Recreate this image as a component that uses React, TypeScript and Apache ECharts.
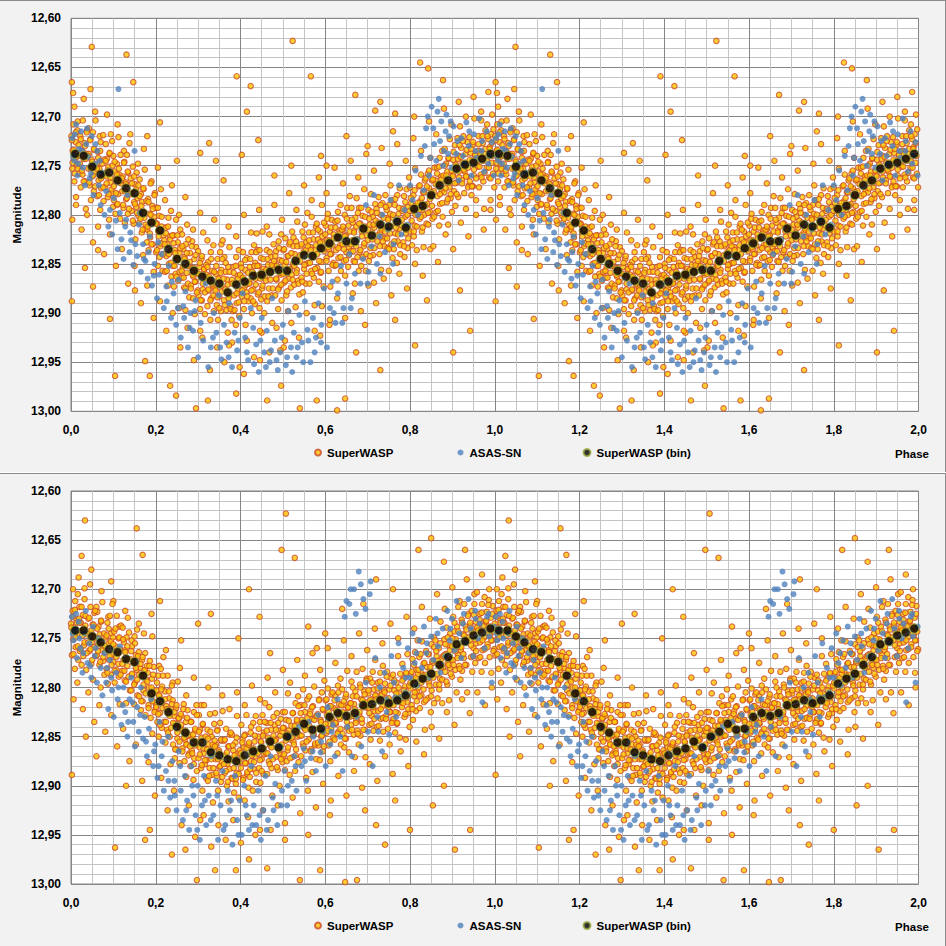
import React, { useEffect, useRef } from "react";
import * as echarts from "echarts";

// phases in thousandths of a cycle, magnitudes as thousandths above 12
const BIN_PHASE = [10,30,50,70,90,110,130,150,170,190,210,230,250,270,290,310,330,350,370,390,410,430,450,470,490,510,530,550,570,590,610,630,650,670,690,710,730,750,770,790,810,830,850,870,890,910,930,950,970,990];
const TOP_BIN = [738,740,751,759,757,765,773,778,798,808,816,835,845,850,857,863,867,870,879,871,868,862,861,858,856,857,847,841,842,834,829,823,827,827,814,821,810,812,807,813,794,791,780,770,765,753,749,747,743,738];
const BOT_BIN = [742,742,748,754,761,764,771,774,788,806,814,825,840,846,856,856,866,869,873,875,869,865,862,855,861,850,845,837,843,842,830,826,829,826,818,817,813,816,813,808,796,791,786,777,769,756,753,747,744,740];

const TOP_SW_CORE = [
[1,720],[3,753],[4,735],[6,708],[8,766],[9,744],[11,726],[12,782],[14,749],[15,714],[17,740],[19,758],
[20,751],[22,720],[23,772],[25,735],[27,759],[28,704],[30,743],[32,727],[33,766],[35,794],[36,738],[38,714],
[41,753],[42,738],[44,770],[46,723],[47,785],[49,744],[50,761],[52,716],[54,776],[55,734],[56,756],[58,704],
[60,749],[62,781],[64,736],[65,765],[67,753],[69,795],[70,726],[71,773],[73,745],[75,760],[76,719],[77,786],
[81,772],[82,728],[84,761],[85,743],[87,782],[88,751],[90,805],[91,738],[93,767],[94,718],[96,778],[99,792],
[100,740],[101,785],[103,756],[105,799],[106,764],[108,748],[109,790],[111,779],[112,721],[114,759],[116,804],[118,768],
[121,776],[122,761],[124,793],[126,746],[127,808],[129,767],[130,784],[132,739],[134,799],[135,757],[136,779],[138,727],
[141,763],[143,796],[144,778],[146,751],[148,809],[149,787],[151,769],[152,825],[154,792],[155,757],[157,783],[159,801],
[161,808],[162,764],[164,797],[165,779],[167,818],[168,787],[170,841],[171,774],[173,803],[174,754],[176,814],[179,828],
[180,815],[182,784],[183,836],[185,799],[187,823],[188,768],[190,807],[192,791],[193,830],[195,858],[196,802],[198,778],
[200,793],[201,838],[203,809],[205,852],[206,817],[208,801],[209,843],[211,832],[212,774],[214,812],[216,857],[218,821],
[220,826],[222,858],[224,813],[225,842],[227,830],[229,872],[230,803],[231,850],[233,822],[235,837],[236,796],[237,863],
[240,852],[242,821],[243,873],[245,836],[247,860],[248,805],[250,844],[252,828],[253,867],[255,895],[256,839],[258,815],
[261,864],[262,820],[264,853],[265,835],[267,874],[268,843],[270,897],[271,830],[273,859],[274,810],[276,870],[279,884],
[281,839],[283,872],[284,854],[286,827],[288,885],[289,863],[291,845],[292,901],[294,868],[295,833],[297,859],[299,877],
[300,837],[301,882],[303,853],[305,896],[306,861],[308,845],[309,887],[311,876],[312,818],[314,856],[316,901],[318,865],
[320,861],[322,893],[324,848],[325,877],[327,865],[329,907],[330,838],[331,885],[333,857],[335,872],[336,831],[337,898],
[341,875],[342,860],[344,892],[346,845],[347,907],[349,866],[350,883],[352,838],[354,898],[355,856],[356,878],[358,826],
[361,887],[362,843],[364,876],[365,858],[367,897],[368,866],[370,920],[371,853],[373,882],[374,833],[376,893],[379,907],
[380,866],[382,898],[384,853],[385,882],[387,870],[389,912],[390,843],[391,890],[393,862],[395,877],[396,836],[397,903],
[401,850],[403,883],[404,865],[406,838],[408,896],[409,874],[411,856],[412,912],[414,879],[415,844],[417,870],[419,888],
[421,868],[422,853],[424,885],[426,838],[427,900],[429,859],[430,876],[432,831],[434,891],[435,849],[436,871],[438,819],
[440,836],[441,881],[443,852],[445,895],[446,860],[448,844],[449,886],[451,875],[452,817],[454,855],[456,900],[458,864],
[460,867],[462,836],[463,888],[465,851],[467,875],[468,820],[470,859],[472,843],[473,882],[475,910],[476,854],[478,830],
[480,850],[482,882],[484,837],[485,866],[487,854],[489,896],[490,827],[491,874],[493,846],[495,861],[496,820],[497,887],
[501,836],[503,869],[504,851],[506,824],[508,882],[509,860],[511,842],[512,898],[514,865],[515,830],[517,856],[519,874],
[521,861],[522,817],[524,850],[525,832],[527,871],[528,840],[530,894],[531,827],[533,856],[534,807],[536,867],[539,881],
[541,847],[542,832],[544,864],[546,817],[547,879],[549,838],[550,855],[552,810],[554,870],[555,828],[556,850],[558,798],
[560,849],[562,818],[563,870],[565,833],[567,857],[568,802],[570,841],[572,825],[573,864],[575,892],[576,836],[578,812],
[580,809],[581,854],[583,825],[585,868],[586,833],[588,817],[589,859],[591,848],[592,790],[594,828],[596,873],[598,837],
[601,811],[603,844],[604,826],[606,799],[608,857],[609,835],[611,817],[612,873],[614,840],[615,805],[617,831],[619,849],
[620,820],[622,852],[624,807],[625,836],[627,824],[629,866],[630,797],[631,844],[633,816],[635,831],[636,790],[637,857],
[641,830],[642,815],[644,847],[646,800],[647,862],[649,821],[650,838],[652,793],[654,853],[655,811],[656,833],[658,781],
[661,837],[662,793],[664,826],[665,808],[667,847],[668,816],[670,870],[671,803],[673,832],[674,783],[676,843],[679,857],
[680,793],[681,838],[683,809],[685,852],[686,817],[688,801],[689,843],[691,832],[692,774],[694,812],[696,857],[698,821],
[700,826],[702,795],[703,847],[705,810],[707,834],[708,779],[710,818],[712,802],[713,841],[715,869],[716,813],[718,789],
[721,794],[723,827],[724,809],[726,782],[728,840],[729,818],[731,800],[732,856],[734,823],[735,788],[737,814],[739,832],
[741,824],[742,780],[744,813],[745,795],[747,834],[748,803],[750,857],[751,790],[753,819],[754,770],[756,830],[759,844],
[760,803],[762,835],[764,790],[765,819],[767,807],[769,849],[770,780],[771,827],[773,799],[775,814],[776,773],[777,840],
[781,811],[782,796],[784,828],[786,781],[787,843],[789,802],[790,819],[792,774],[794,834],[795,792],[796,814],[798,762],
[800,772],[801,817],[803,788],[805,831],[806,796],[808,780],[809,822],[811,811],[812,753],[814,791],[816,836],[818,800],
[821,771],[823,804],[824,786],[826,759],[828,817],[829,795],[831,777],[832,833],[834,800],[835,765],[837,791],[839,809],
[840,789],[842,758],[843,810],[845,773],[847,797],[848,742],[850,781],[852,765],[853,804],[855,832],[856,776],[858,752],
[860,765],[862,797],[864,752],[865,781],[867,769],[869,811],[870,742],[871,789],[873,761],[875,776],[876,735],[877,802],
[881,777],[882,733],[884,766],[885,748],[887,787],[888,756],[890,810],[891,743],[893,772],[894,723],[896,783],[899,797],
[901,759],[902,744],[904,776],[906,729],[907,791],[909,750],[910,767],[912,722],[914,782],[915,740],[916,762],[918,710],
[921,732],[923,765],[924,747],[926,720],[928,778],[929,756],[931,738],[932,794],[934,761],[935,726],[937,752],[939,770],
[940,721],[941,766],[943,737],[945,780],[946,745],[948,729],[949,771],[951,760],[952,702],[954,740],[956,785],[958,749],
[960,751],[962,720],[963,772],[965,735],[967,759],[968,704],[970,743],[972,727],[973,766],[975,794],[976,738],[978,714],
[981,752],[982,708],[984,741],[985,723],[987,762],[988,731],[990,785],[991,718],[993,747],[994,698],[996,758],[999,772]
];

const TOP_SW_TIGHT = [
[2,724],[4,747],[6,734],[9,758],[11,716],[13,741],[16,753],[18,729],
[21,748],[23,723],[26,755],[28,736],[30,766],[33,730],[35,743],[37,716],
[40,740],[43,767],[45,724],[47,753],[50,746],[52,760],[54,733],[57,771],
[61,753],[64,742],[66,780],[69,735],[71,763],[74,748],[76,772],[79,744],
[82,745],[84,768],[86,755],[89,779],[91,737],[93,762],[96,774],[98,750],
[101,771],[103,746],[106,778],[108,759],[110,789],[113,753],[115,766],[117,739],
[120,763],[123,790],[125,747],[127,776],[130,769],[132,783],[134,756],[137,794],
[141,779],[144,768],[146,806],[149,761],[151,789],[154,774],[156,798],[159,770],
[162,781],[164,804],[166,791],[169,815],[171,773],[173,798],[176,810],[178,786],
[181,812],[183,787],[186,819],[188,800],[190,830],[193,794],[195,807],[197,780],
[200,809],[203,836],[205,793],[207,822],[210,815],[212,829],[214,802],[217,840],
[221,830],[224,819],[226,857],[229,812],[231,840],[234,825],[236,849],[239,821],
[242,829],[244,852],[246,839],[249,863],[251,821],[253,846],[256,858],[258,834],
[261,857],[263,832],[266,864],[268,845],[270,875],[273,839],[275,852],[277,825],
[280,848],[283,875],[285,832],[287,861],[290,854],[292,868],[294,841],[297,879],
[301,860],[304,849],[306,887],[309,842],[311,870],[314,855],[316,879],[319,851],
[322,853],[324,876],[326,863],[329,887],[331,845],[333,870],[336,882],[338,858],
[341,877],[343,852],[346,884],[348,865],[350,895],[353,859],[355,872],[357,845],
[360,865],[363,892],[365,849],[367,878],[370,871],[372,885],[374,858],[377,896],
[381,870],[384,859],[386,897],[389,852],[391,880],[394,865],[396,889],[399,861],
[402,854],[404,877],[406,864],[409,888],[411,846],[413,871],[416,883],[418,859],
[421,870],[423,845],[426,877],[428,858],[430,888],[433,852],[435,865],[437,838],
[440,852],[443,879],[445,836],[447,865],[450,858],[452,872],[454,845],[457,883],
[461,856],[464,845],[466,883],[469,838],[471,866],[474,851],[476,875],[479,847],
[482,842],[484,865],[486,852],[489,876],[491,834],[493,859],[496,871],[498,847],
[501,860],[503,835],[506,867],[508,848],[510,878],[513,842],[515,855],[517,828],
[520,839],[523,866],[525,823],[527,852],[530,845],[532,859],[534,832],[537,870],
[541,841],[544,830],[546,868],[549,823],[551,851],[554,836],[556,860],[559,832],
[562,826],[564,849],[566,836],[569,860],[571,818],[573,843],[576,855],[578,831],
[581,840],[583,815],[586,847],[588,828],[590,858],[593,822],[595,835],[597,808],
[600,820],[603,847],[605,804],[607,833],[610,826],[612,840],[614,813],[617,851],
[621,824],[624,813],[626,851],[629,806],[631,834],[634,819],[636,843],[639,815],
[642,812],[644,835],[646,822],[649,846],[651,804],[653,829],[656,841],[658,817],
[661,830],[663,805],[666,837],[668,818],[670,848],[673,812],[675,825],[677,798],
[680,809],[683,836],[685,793],[687,822],[690,815],[692,829],[694,802],[697,840],
[701,815],[704,804],[706,842],[709,797],[711,825],[714,810],[716,834],[719,806],
[722,798],[724,821],[726,808],[729,832],[731,790],[733,815],[736,827],[738,803],
[741,817],[743,792],[746,824],[748,805],[750,835],[753,799],[755,812],[757,785],
[760,800],[763,827],[765,784],[767,813],[770,806],[772,820],[774,793],[777,831],
[781,805],[784,794],[786,832],[789,787],[791,815],[794,800],[796,824],[799,796],
[802,783],[804,806],[806,793],[809,817],[811,775],[813,800],[816,812],[818,788],
[821,795],[823,770],[826,802],[828,783],[830,813],[833,777],[835,790],[837,763],
[840,771],[843,798],[845,755],[847,784],[850,777],[852,791],[854,764],[857,802],
[861,769],[864,758],[866,796],[869,751],[871,779],[874,764],[876,788],[879,760],
[882,750],[884,773],[886,760],[889,784],[891,742],[893,767],[896,779],[898,755],
[901,761],[903,736],[906,768],[908,749],[910,779],[913,743],[915,756],[917,729],
[920,741],[923,768],[925,725],[927,754],[930,747],[932,761],[934,734],[937,772],
[941,744],[944,733],[946,771],[949,726],[951,754],[954,739],[956,763],[959,735],
[962,728],[964,751],[966,738],[969,762],[971,720],[973,745],[976,757],[978,733],
[981,745],[983,720],[986,752],[988,733],[990,763],[993,727],[995,740],[997,713]
];

const TOP_SW_EDGE = [
[8,690],[16,705],[30,682],[42,712],[57,695],[68,720],[85,698],[97,725],[110,708],[125,735],[140,718],[158,748],[172,733],[190,766],[205,752],[222,785],[238,770],[255,800],[270,782],[288,815],[305,798],[322,826],[338,805],[355,830],[372,812],[390,822],[408,800],[425,818],[444,795],[462,812],[480,790],[498,805],[515,778],[532,795],[550,770],[568,785],[585,762],[603,778],[622,752],[642,768],[660,745],[678,762],[697,738],[715,755],[733,732],[752,748],[770,728],[790,745],[808,722],[826,735],[845,705],[862,718],[880,692],[898,708],[915,685],[932,700],[950,680],[968,695],[985,675],
[49,629],[131,637],[147,665],[2,665],[5,676],[46,672],[391,659],[424,669],[415,695],[523,623],[566,659],[210,706],[326,727],[442,724],[403,739],[305,737],[342,745],[671,678],[718,694],[765,697],[824,645],[843,651],[878,663],[730,685],[603,750],[650,720],[700,730],[760,715],[810,700],[590,740],[480,760],[520,750],[360,765],[250,745],[180,720],
[3,805],[12,790],[25,815],[38,800],[52,828],[64,812],[78,840],[92,820],[106,852],[120,835],[135,870],[150,852],[165,890],[180,872],[195,905],[210,888],[225,918],[240,900],[258,935],[275,915],[290,948],[310,925],[328,958],[345,935],[362,950],[380,930],[398,955],[415,928],[432,945],[450,920],[468,940],[485,915],[502,935],[520,910],[538,925],[556,900],[575,918],[592,893],[610,912],[628,885],[647,905],[665,880],[684,898],[702,872],[720,890],[738,865],[756,882],[775,860],[793,875],[812,850],[830,862],[848,835],[866,848],[884,820],[902,835],[920,808],[938,822],[956,800],[974,815],[990,795],
[2,888],[52,873],[92,906],[104,964],[175,949],[186,964],[234,974],[248,984],[295,997],[323,989],[390,982],[408,962],[463,989],[496,974],[540,997],[580,989],[628,999],[647,987],[673,940],[730,958],[812,933],[902,940],[942,918],[840,887],[918,877],[305,918],[373,933],[446,918],[505,928],[588,923],[611,907],[694,912],[765,907],[64,836],[33,854],[151,877],[446,948],[494,938]
];

const TOP_ASAS = [
[3,722],[8,745],[12,708],[15,760],[19,733],[24,715],[28,752],[33,770],[36,728],[40,741],[44,763],[49,720],[53,780],[57,748],[62,735],[66,770],[70,790],[74,757],
[79,800],[83,776],[88,812],[92,795],[97,820],[101,783],[106,806],[110,835],[112,672],[115,798],[119,825],[124,845],[128,812],[133,780],[138,838],[142,826],[147,851],[150,735],[156,842],[160,810],
[165,858],[170,830],[176,847],[181,865],[186,822],[191,872],[197,850],[203,885],[208,861],[214,840],[219,895],[225,873],[231,852],[236,905],[242,880],[248,912],[254,866],[259,925],[265,893],[270,878],[276,935],[282,900],[288,918],[294,887],[300,945],[306,910],[312,928],[318,870],
[324,955],[330,935],[337,900],[343,920],[349,882],[355,947],[361,912],[367,930],[373,890],[380,955],[386,920],[392,938],[398,905],[405,880],[411,925],[418,948],[424,895],[430,915],[437,932],[443,960],[450,905],[456,940],[462,918],[469,950],[475,885],[481,928],[488,958],[494,940],[500,912],[507,953],[513,898],[519,935],[526,920],[532,945],[539,902],[545,930],[552,888],[558,917],[565,950],[571,905],[578,925],[584,890],[591,912],[597,875],[604,935],
[611,895],[617,868],[624,910],[630,880],[637,852],[643,895],[650,870],[657,840],[663,885],[670,860],[676,825],[683,870],[689,845],[696,790],[702,858],[709,832],[715,780],[722,850],[728,822],[735,800],[741,838],[748,815],[754,785],[761,830],[767,805],[774,770],[780,820],
[787,795],[793,810],[800,770],[806,785],[813,755],[819,800],[826,740],[832,775],[838,712],[845,760],[851,690],[857,728],[862,745],[868,682],[874,705],[880,735],[886,698],[892,720],[898,752],[903,710],[909,738],[915,765],[921,722],[927,748],[933,706],[939,730],[945,760],[951,718],[957,742],[963,702],[969,735],[975,756],[981,715],[987,740],[993,726],[998,760]
];

const TOP_ASAS_EXTRA = [
[5,740],[9,718],[17,748],[26,735],[38,712],[47,758],[58,728],[68,745],[130,805],[140,818],[152,830],[162,798],[172,845],[183,838],[195,862],[206,828],[226,888],[238,868],[252,895],[267,905],[280,915],[292,898],[335,925],[352,935],[372,945],[395,928],[415,940],[432,952],[447,928],[460,955],[472,938],[485,948],[497,925],[510,945],[522,960],[535,935],[548,950],[560,928],[575,940],[590,930],[620,900],[640,910],[660,895],[700,870],[730,860],[760,850],[835,730],[842,700],[848,742],[855,712],[865,695],[871,725],[878,750],[884,715],[890,738],[896,705],[912,725],[925,740],[940,715],[955,735],[970,725],[985,748]
];

const BOT_SW_CORE = [
[0,735],[2,767],[4,722],[5,751],[7,739],[9,781],[10,712],[11,759],[13,731],[15,746],[16,705],[17,772],
[20,718],[21,763],[23,734],[25,777],[26,742],[28,726],[29,768],[31,757],[32,699],[34,737],[36,782],[38,746],
[41,730],[43,763],[44,745],[46,718],[48,776],[49,754],[51,736],[52,792],[54,759],[55,724],[57,750],[59,768],
[61,767],[62,723],[64,756],[65,738],[67,777],[68,746],[70,800],[71,733],[73,762],[74,713],[76,773],[79,787],
[81,764],[82,749],[84,781],[86,734],[87,796],[89,755],[90,772],[92,727],[94,787],[95,745],[96,767],[98,715],
[100,774],[102,743],[103,795],[105,758],[107,782],[108,727],[110,766],[112,750],[113,789],[115,817],[116,761],[118,737],
[121,783],[122,739],[124,772],[125,754],[127,793],[128,762],[130,816],[131,749],[133,778],[134,729],[136,789],[139,803],
[140,771],[142,803],[144,758],[145,787],[147,775],[149,817],[150,748],[151,795],[153,767],[155,782],[156,741],[157,808],
[160,764],[161,809],[163,780],[165,823],[166,788],[168,772],[169,814],[171,803],[172,745],[174,783],[176,828],[178,792],
[181,785],[183,818],[184,800],[186,773],[188,831],[189,809],[191,791],[192,847],[194,814],[195,779],[197,805],[199,823],
[201,818],[202,803],[204,835],[206,788],[207,850],[209,809],[210,826],[212,781],[214,841],[215,799],[216,821],[218,769],
[220,835],[222,804],[223,856],[225,819],[227,843],[228,788],[230,827],[232,811],[233,850],[235,878],[236,822],[238,798],
[240,813],[241,858],[243,829],[245,872],[246,837],[248,821],[249,863],[251,852],[252,794],[254,832],[256,877],[258,841],
[261,829],[263,862],[264,844],[266,817],[268,875],[269,853],[271,835],[272,891],[274,858],[275,823],[277,849],[279,867],
[280,848],[282,880],[284,835],[285,864],[287,852],[289,894],[290,825],[291,872],[293,844],[295,859],[296,818],[297,885],
[301,872],[302,828],[304,861],[305,843],[307,882],[308,851],[310,905],[311,838],[313,867],[314,818],[316,878],[319,892],
[320,874],[322,843],[323,895],[325,858],[327,882],[328,827],[330,866],[332,850],[333,889],[335,917],[336,861],[338,837],
[341,873],[342,858],[344,890],[346,843],[347,905],[349,864],[350,881],[352,836],[354,896],[355,854],[356,876],[358,824],
[361,854],[363,887],[364,869],[366,842],[368,900],[369,878],[371,860],[372,916],[374,883],[375,848],[377,874],[379,892],
[380,848],[381,893],[383,864],[385,907],[386,872],[388,856],[389,898],[391,887],[392,829],[394,867],[396,912],[398,876],
[401,882],[402,838],[404,871],[405,853],[407,892],[408,861],[410,915],[411,848],[413,877],[414,828],[416,888],[419,902],
[420,859],[422,891],[424,846],[425,875],[427,863],[429,905],[430,836],[431,883],[433,855],[435,870],[436,829],[437,896],
[441,865],[442,850],[444,882],[446,835],[447,897],[449,856],[450,873],[452,828],[454,888],[455,846],[456,868],[458,816],
[460,867],[462,836],[463,888],[465,851],[467,875],[468,820],[470,859],[472,843],[473,882],[475,910],[476,854],[478,830],
[481,838],[483,871],[484,853],[486,826],[488,884],[489,862],[491,844],[492,900],[494,867],[495,832],[497,858],[499,876],
[500,825],[501,870],[503,841],[505,884],[506,849],[508,833],[509,875],[511,864],[512,806],[514,844],[516,889],[518,853],
[520,839],[522,871],[524,826],[525,855],[527,843],[529,885],[530,816],[531,863],[533,835],[535,850],[536,809],[537,876],
[540,849],[542,818],[543,870],[545,833],[547,857],[548,802],[550,841],[552,825],[553,864],[555,892],[556,836],[558,812],
[561,853],[562,809],[564,842],[565,824],[567,863],[568,832],[570,886],[571,819],[573,848],[574,799],[576,859],[579,873],
[581,842],[582,827],[584,859],[586,812],[587,874],[589,833],[590,850],[592,805],[594,865],[595,823],[596,845],[598,793],
[601,813],[603,846],[604,828],[606,801],[608,859],[609,837],[611,819],[612,875],[614,842],[615,807],[617,833],[619,851],
[620,821],[622,853],[624,808],[625,837],[627,825],[629,867],[630,798],[631,845],[633,817],[635,832],[636,791],[637,858],
[640,802],[641,847],[643,818],[645,861],[646,826],[648,810],[649,852],[651,841],[652,783],[654,821],[656,866],[658,830],
[661,838],[662,794],[664,827],[665,809],[667,848],[668,817],[670,871],[671,804],[673,833],[674,784],[676,844],[679,858],
[680,828],[682,797],[683,849],[685,812],[687,836],[688,781],[690,820],[692,804],[693,843],[695,871],[696,815],[698,791],
[701,821],[702,806],[704,838],[706,791],[707,853],[709,812],[710,829],[712,784],[714,844],[715,802],[716,824],[718,772],
[720,808],[722,840],[724,795],[725,824],[727,812],[729,854],[730,785],[731,832],[733,804],[735,819],[736,778],[737,845],
[741,796],[743,829],[744,811],[746,784],[748,842],[749,820],[751,802],[752,858],[754,825],[755,790],[757,816],[759,834],
[760,787],[761,832],[763,803],[765,846],[766,811],[768,795],[769,837],[771,826],[772,768],[774,806],[776,851],[778,815],
[781,820],[782,776],[784,809],[785,791],[787,830],[788,799],[790,853],[791,786],[793,815],[794,766],[796,826],[799,840],
[801,801],[802,786],[804,818],[806,771],[807,833],[809,792],[810,809],[812,764],[814,824],[815,782],[816,804],[818,752],
[820,800],[822,769],[823,821],[825,784],[827,808],[828,753],[830,792],[832,776],[833,815],[835,843],[836,787],[838,763],
[840,779],[842,811],[844,766],[845,795],[847,783],[849,825],[850,756],[851,803],[853,775],[855,790],[856,749],[857,816],
[860,752],[861,797],[863,768],[865,811],[866,776],[868,760],[869,802],[871,791],[872,733],[874,771],[876,816],[878,780],
[881,751],[883,784],[884,766],[886,739],[888,797],[889,775],[891,757],[892,813],[894,780],[895,745],[897,771],[899,789],
[901,772],[902,728],[904,761],[905,743],[907,782],[908,751],[910,805],[911,738],[913,767],[914,718],[916,778],[919,792],
[920,762],[922,731],[923,783],[925,746],[927,770],[928,715],[930,754],[932,738],[933,777],[935,805],[936,749],[938,725],
[941,752],[942,737],[944,769],[946,722],[947,784],[949,743],[950,760],[952,715],[954,775],[955,733],[956,755],[958,703],
[960,738],[962,770],[964,725],[965,754],[967,742],[969,784],[970,715],[971,762],[973,734],[975,749],[976,708],[977,775],
[981,723],[983,756],[984,738],[986,711],[988,769],[989,747],[991,729],[992,785],[994,752],[995,717],[997,743],[999,761]
];

const BOT_SW_TIGHT = [
[1,739],[4,728],[6,766],[9,721],[11,749],[14,734],[16,758],[19,730],
[20,734],[23,761],[25,718],[27,747],[30,740],[32,754],[34,727],[37,765],
[41,754],[43,729],[46,761],[48,742],[50,772],[53,736],[55,749],[57,722],
[62,740],[64,763],[66,750],[69,774],[71,732],[73,757],[76,769],[78,745],
[81,758],[84,747],[86,785],[89,740],[91,768],[94,753],[96,777],[99,749],
[100,756],[103,783],[105,740],[107,769],[110,762],[112,776],[114,749],[117,787],
[121,776],[123,751],[126,783],[128,764],[130,794],[133,758],[135,771],[137,744],
[142,763],[144,786],[146,773],[149,797],[151,755],[153,780],[156,792],[158,768],
[161,787],[164,776],[166,814],[169,769],[171,797],[174,782],[176,806],[179,778],
[180,794],[183,821],[185,778],[187,807],[190,800],[192,814],[194,787],[197,825],
[201,820],[203,795],[206,827],[208,808],[210,838],[213,802],[215,815],[217,788],
[222,812],[224,835],[226,822],[229,846],[231,804],[233,829],[236,841],[238,817],
[241,836],[244,825],[246,863],[249,818],[251,846],[254,831],[256,855],[259,827],
[260,838],[263,865],[265,822],[267,851],[270,844],[272,858],[274,831],[277,869],
[281,860],[283,835],[286,867],[288,848],[290,878],[293,842],[295,855],[297,828],
[302,845],[304,868],[306,855],[309,879],[311,837],[313,862],[316,874],[318,850],
[321,863],[324,852],[326,890],[329,845],[331,873],[334,858],[336,882],[339,854],
[340,860],[343,887],[345,844],[347,873],[350,866],[352,880],[354,853],[357,891],
[361,878],[363,853],[366,885],[368,866],[370,896],[373,860],[375,873],[377,846],
[382,859],[384,882],[386,869],[389,893],[391,851],[393,876],[396,888],[398,864],
[401,867],[404,856],[406,894],[409,849],[411,877],[414,862],[416,886],[419,858],
[420,856],[423,883],[425,840],[427,869],[430,862],[432,876],[434,849],[437,887],
[441,867],[443,842],[446,874],[448,855],[450,885],[453,849],[455,862],[457,835],
[462,844],[464,867],[466,854],[469,878],[471,836],[473,861],[476,873],[478,849],
[481,854],[484,843],[486,881],[489,836],[491,864],[494,849],[496,873],[499,845],
[500,841],[503,868],[505,825],[507,854],[510,847],[512,861],[514,834],[517,872],
[521,851],[523,826],[526,858],[528,839],[530,869],[533,833],[535,846],[537,819],
[542,826],[544,849],[546,836],[549,860],[551,818],[553,843],[556,855],[558,831],
[561,838],[564,827],[566,865],[569,820],[571,848],[574,833],[576,857],[579,829],
[580,829],[583,856],[585,813],[587,842],[590,835],[592,849],[594,822],[597,860],
[601,837],[603,812],[606,844],[608,825],[610,855],[613,819],[615,832],[617,805],
[622,813],[624,836],[626,823],[629,847],[631,805],[633,830],[636,842],[638,818],
[641,825],[644,814],[646,852],[649,807],[651,835],[654,820],[656,844],[659,816],
[660,816],[663,843],[665,800],[667,829],[670,822],[672,836],[674,809],[677,847],
[681,825],[683,800],[686,832],[688,813],[690,843],[693,807],[695,820],[697,793],
[702,803],[704,826],[706,813],[709,837],[711,795],[713,820],[716,832],[718,808],
[721,812],[724,801],[726,839],[729,794],[731,822],[734,807],[736,831],[739,803],
[740,805],[743,832],[745,789],[747,818],[750,811],[752,825],[754,798],[757,836],
[761,818],[763,793],[766,825],[768,806],[770,836],[773,800],[775,813],[777,786],
[782,793],[784,816],[786,803],[789,827],[791,785],[793,810],[796,822],[798,798],
[801,795],[804,784],[806,822],[809,777],[811,805],[814,790],[816,814],[819,786],
[820,782],[823,809],[825,766],[827,795],[830,788],[832,802],[834,775],[837,813],
[841,791],[843,766],[846,798],[848,779],[850,809],[853,773],[855,786],[857,759],
[862,763],[864,786],[866,773],[869,797],[871,755],[873,780],[876,792],[878,768],
[881,767],[884,756],[886,794],[889,749],[891,777],[894,762],[896,786],[899,758],
[900,750],[903,777],[905,734],[907,763],[910,756],[912,770],[914,743],[917,781],
[921,759],[923,734],[926,766],[928,747],[930,777],[933,741],[935,754],[937,727],
[942,734],[944,757],[946,744],[949,768],[951,726],[953,751],[956,763],[958,739],
[961,742],[964,731],[966,769],[969,724],[971,752],[974,737],[976,761],[979,733],
[980,732],[983,759],[985,716],[987,745],[990,738],[992,752],[994,725],[997,763]
];

const BOT_SW_EDGE = [
[5,700],[18,688],[32,710],[45,695],[60,718],[72,702],[88,728],[100,712],[114,738],[128,722],[143,752],[160,735],[175,765],[192,748],[208,778],[224,762],[240,795],[257,780],[272,808],[290,790],[307,818],[324,800],[340,826],[357,808],[374,822],[392,805],[410,818],[427,798],[446,812],[464,790],[482,805],[500,782],[517,795],[534,772],[552,788],[570,765],[588,782],[606,760],[624,775],[644,752],[662,768],[680,745],[699,762],[717,740],[735,755],[754,735],[772,750],[792,728],[810,740],[828,718],[847,730],[864,705],[882,720],[900,698],[917,712],[934,690],[952,705],[970,685],[987,700],
[25,666],[33,630],[155,638],[169,665],[507,623],[497,660],[528,668],[48,680],[95,692],[210,712],[300,735],[330,725],[395,750],[420,700],[445,728],[560,738],[600,745],[640,720],[690,715],[720,690],[760,700],[820,660],[850,648],[880,672],[930,660],[580,760],[470,765],[260,752],[190,725],
[6,812],[15,795],[28,822],[41,805],[55,835],[67,818],[81,845],[95,828],[109,860],[123,842],[138,875],[153,858],[168,895],[183,876],[198,910],[213,892],[228,925],[243,905],[261,940],[278,920],[293,952],[313,930],[331,962],[348,940],[365,955],[383,935],[401,958],[418,932],[435,950],[453,925],[471,945],[488,920],[505,938],[523,912],[541,928],[559,905],[578,922],[595,898],[613,915],[631,890],[650,910],[668,885],[687,902],[705,878],[723,895],[741,870],[759,888],[778,865],[796,880],[815,855],[833,868],[851,840],[869,852],[887,825],[905,838],[923,812],[941,826],[959,805],[977,818],[993,800],
[2,889],[104,963],[175,955],[238,970],[297,996],[340,986],[389,986],[463,984],[540,996],[588,986],[647,998],[675,996],[741,960],[800,945],[854,920],[906,965],[942,945],[186,945],[305,935],[446,945],[505,955],[611,930],[694,925],[765,915],[60,870],[130,900],[270,965],[420,975],[560,950],[720,940],[880,900],[35,850]
];

const BOT_ASAS = [
[2,728],[6,752],[10,740],[14,770],[18,733],[22,760],[27,785],[31,745],[35,722],[39,775],[43,755],[48,790],[52,738],[56,768],[61,795],[65,750],[70,780],[74,808],
[79,765],[83,795],[88,822],[92,772],[97,803],[101,830],[106,785],[110,812],[115,758],[119,838],[124,800],[128,825],[133,850],[138,812],[142,790],[147,835],[151,860],[156,820],[160,845],[165,800],[170,852],[174,830],[179,870],[184,842],[189,812],
[194,880],[199,858],[204,892],[209,835],[214,870],[219,905],[224,885],[229,850],[234,912],[239,875],[244,895],[249,925],[254,865],[259,905],[264,935],[269,890],[274,915],[279,945],[284,880],[289,910],[294,930],[299,900],[304,955],[309,920],[314,890],[319,940],
[325,910],[331,870],[336,930],[342,895],[347,955],[353,920],[358,885],[364,940],[370,905],[375,925],[381,960],[387,890],[392,935],[398,915],[403,950],[409,900],[415,930],[420,945],[426,880],[431,920],[437,940],[442,905],[448,955],[454,925],[459,890],[465,935],[471,870],[476,912],[482,898],[487,940],[493,860],[498,905],[504,885],[510,920],[515,850],[521,895],[527,870],[532,905],[538,840],[544,880],[549,862],[555,895],[561,835],[566,872],[572,850],[578,885],[583,828],[589,866],[595,845],
[601,880],[606,820],[612,858],[618,838],[623,870],[629,812],[635,850],[641,885],[646,728],[652,840],[657,715],[663,870],[668,700],[674,830],[679,682],[685,860],[690,710],[696,795],[701,845],[707,692],[712,880],[718,770],[723,830],[729,800],[734,865],[740,785],[745,812],[751,848],[756,768],[762,795],[767,830],[773,755],[778,810],
[784,780],[789,805],[795,760],[800,790],[806,745],[811,775],[817,798],[822,752],[828,780],[833,738],[839,765],[844,790],[850,748],[855,772],[861,730],[866,758],[872,785],[877,740],[883,768],[888,722],[894,752],[899,730],[905,762],[910,712],[916,745],[921,770],[927,725],[932,755],[938,710],[943,740],[949,768],[954,722],[960,750],[965,735],[971,815],[976,760],[982,728],[987,748],[993,795],[998,738]
];

const BOT_ASAS_EXTRA = [
[4,745],[12,725],[20,750],[29,765],[45,778],[58,760],[85,780],[95,790],[112,800],[122,818],[135,835],[145,815],[163,828],[177,855],[196,865],[207,880],[216,855],[230,895],[245,910],[258,880],[272,925],[286,900],[298,945],[316,915],[330,935],[345,910],[360,945],[378,915],[395,950],[412,920],[428,940],[445,930],[462,945],[478,925],[496,920],[512,900],[530,880],[552,875],[570,865],[590,855],[615,845],[650,712],[660,700],[672,725],[684,695],[695,720],[705,705],[725,845],[745,825],[765,810],[790,790],[815,765],[840,755],[865,745],[895,740],[925,735],[955,730],[985,725]
];

const FONT = "'Liberation Sans', Arial, sans-serif";
const PLOT_LEFT = 71;
const PLOT_W = 847.5;
const PLOT_H = 393;
const PANEL_TOPS = [18.3, 491];
const LEGEND_Y = [453.5, 926.5];

// fold two cycles, as the original phase diagram does
const twoCycles = (pts: number[][]) => {
  const out: number[][] = [];
  for (const [p, m] of pts) out.push([p / 1000, 12 + m / 1000]);
  for (const [p, m] of pts) out.push([1 + p / 1000, 12 + m / 1000]);
  return out;
};
const binPoints = (mags: number[]) => twoCycles(BIN_PHASE.map((p, i) => [p, mags[i]]));

const SW_STYLE = { color: "#FFC400", borderColor: "#CC4A26", borderWidth: 1.1 };
const ASAS_STYLE = { color: "#4F81BD" };
const BIN_STYLE = { color: "#000000", borderColor: "#9AA83C", borderWidth: 1 };

function buildOption() {
  const panels = [
    { sw: [...TOP_SW_EDGE, ...TOP_SW_CORE, ...TOP_SW_TIGHT], asas: [...TOP_ASAS, ...TOP_ASAS_EXTRA], bin: TOP_BIN },
    { sw: [...BOT_SW_EDGE, ...BOT_SW_CORE, ...BOT_SW_TIGHT], asas: [...BOT_ASAS, ...BOT_ASAS_EXTRA], bin: BOT_BIN },
  ];
  const grid: any[] = [];
  const xAxis: any[] = [];
  const yAxis: any[] = [];
  const series: any[] = [];
  const legend: any[] = [];
  const graphic: any[] = [];

  panels.forEach((pnl, i) => {
    grid.push({
      left: PLOT_LEFT, top: PANEL_TOPS[i], width: PLOT_W, height: PLOT_H,
      show: true, backgroundColor: "#ffffff", borderColor: "#868686", borderWidth: 1,
    });
    xAxis.push({
      type: "value", gridIndex: i, min: 0, max: 2, interval: 0.2,
      axisLine: { show: false }, axisTick: { show: false },
      axisLabel: {
        margin: 12.5, fontSize: 12, fontWeight: "bold", color: "#000", fontFamily: FONT,
        formatter: (v: number) => v.toFixed(1).replace(".", ","),
      },
      splitLine: { show: true, lineStyle: { color: "#868686", width: 1 } },
      minorTick: { show: false, splitNumber: 4 },
      minorSplitLine: { show: true, lineStyle: { color: "#c4c4c4", width: 1 } },
    });
    yAxis.push({
      type: "value", gridIndex: i, min: 12.6, max: 13.0, interval: 0.05, inverse: true,
      axisLine: { show: false }, axisTick: { show: false },
      axisLabel: {
        margin: 10, fontSize: 12, fontWeight: "bold", color: "#000", fontFamily: FONT,
        formatter: (v: number) => v.toFixed(2).replace(".", ","),
      },
      splitLine: { show: true, lineStyle: { color: "#868686", width: 1 } },
      minorTick: { show: false, splitNumber: 5 },
      minorSplitLine: { show: true, lineStyle: { color: "#c4c4c4", width: 1 } },
    });
    const common = { type: "scatter", xAxisIndex: i, yAxisIndex: i, symbol: "circle", progressive: 0, silent: true, emphasis: { disabled: true } };
    series.push({ ...common, name: "SuperWASP", data: twoCycles(pnl.sw), symbolSize: 5.5, itemStyle: SW_STYLE, z: 2 });
    series.push({ ...common, name: "ASAS-SN", data: twoCycles(pnl.asas), symbolSize: 6, itemStyle: ASAS_STYLE, z: 3 });
    series.push({ ...common, name: "SuperWASP (bin)", data: binPoints(pnl.bin), symbolSize: 9, itemStyle: BIN_STYLE, z: 4 });

    const legendItems = [
      { name: "SuperWASP", left: 314, size: 6 },
      { name: "ASAS-SN", left: 457.5, size: 6 },
      { name: "SuperWASP (bin)", left: 582.5, size: 7 },
    ];
    legendItems.forEach((it) => {
      legend.push({
        data: [it.name], left: it.left, top: LEGEND_Y[i] - 7, padding: 0, itemGap: 0,
        icon: "circle", itemWidth: it.size, itemHeight: it.size, selectedMode: false,
        textStyle: { fontSize: 11.5, fontWeight: "bold", color: "#000", fontFamily: FONT, padding: [0, 0, 0, 1] },
      });
    });
    graphic.push({
      type: "text", x: 17, y: PANEL_TOPS[i] + PLOT_H / 2, rotation: Math.PI / 2,
      style: { text: "Magnitude", fill: "#000", font: `bold 11.5px ${FONT}`, textAlign: "center", textVerticalAlign: "middle" },
    });
    graphic.push({
      type: "text", x: 929, y: LEGEND_Y[i],
      style: { text: "Phase", fill: "#000", font: `bold 11.5px ${FONT}`, textAlign: "right", textVerticalAlign: "middle" },
    });
  });

  graphic.push({ type: "line", shape: { x1: 0, y1: 0.5, x2: 946, y2: 0.5 }, style: { stroke: "#8c8c8c", lineWidth: 1 } });
  graphic.push({ type: "line", shape: { x1: 945.5, y1: 0, x2: 945.5, y2: 946 }, style: { stroke: "#8c8c8c", lineWidth: 1 } });
  graphic.push({ type: "line", shape: { x1: 0, y1: 472.5, x2: 946, y2: 472.5 }, style: { stroke: "#ffffff", lineWidth: 1 } });
  graphic.push({ type: "line", shape: { x1: 0, y1: 473.5, x2: 946, y2: 473.5 }, style: { stroke: "#8c8c8c", lineWidth: 1 } });

  return {
    animation: false,
    backgroundColor: "#f2f2f2",
    grid, xAxis, yAxis, series, legend, graphic,
  };
}

export default function App() {
  const ref = useRef<HTMLDivElement>(null);
  useEffect(() => {
    if (!ref.current) return;
    const chart = echarts.init(ref.current, undefined, { renderer: "svg" });
    chart.setOption(buildOption() as any);
    return () => chart.dispose();
  }, []);
  return <div ref={ref} style={{ position: "fixed", left: 0, top: 0, width: 946, height: 946 }} />;
}
